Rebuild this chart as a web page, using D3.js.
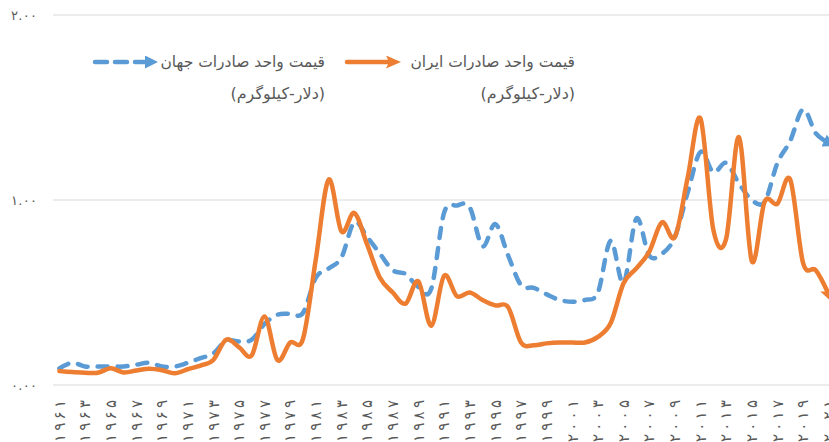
<!DOCTYPE html>
<html>
<head>
<meta charset="utf-8">
<script src="https://cdn.jsdelivr.net/npm/d3@7"></script>
<style>
html,body{margin:0;padding:0;background:#fff;overflow:hidden;}
svg{display:block;font-family:"DejaVu Sans",sans-serif;}
</style>
</head>
<body>
<svg id="chart" width="829" height="442"></svg>
<script>
const years = d3.range(1961, 2022);
const iranValues = [0.075,0.07,0.066,0.066,0.09,0.068,0.078,0.088,0.08,0.063,
  0.085,0.105,0.135,0.245,0.205,0.16,0.37,0.135,0.23,0.25,
  0.68,1.11,0.83,0.93,0.76,0.58,0.50,0.44,0.56,0.32,
  0.59,0.48,0.50,0.46,0.43,0.42,0.23,0.215,0.225,0.23,
  0.23,0.23,0.26,0.335,0.55,0.63,0.72,0.88,0.80,1.12,
  1.44,0.84,0.79,1.34,0.67,0.99,0.98,1.11,0.66,0.62,0.49];
const worldValues = [0.09,0.12,0.10,0.10,0.10,0.10,0.11,0.12,0.10,0.10,
  0.12,0.145,0.17,0.24,0.235,0.245,0.33,0.38,0.385,0.39,
  0.58,0.63,0.69,0.88,0.80,0.71,0.62,0.60,0.53,0.52,
  0.93,0.97,0.96,0.75,0.87,0.70,0.54,0.525,0.49,0.46,
  0.45,0.46,0.50,0.78,0.55,0.90,0.70,0.71,0.80,1.04,
  1.26,1.15,1.20,1.09,1.00,0.99,1.20,1.32,1.49,1.36,1.31];
const yTicks = [0, 1, 2];
const yTickLabels = ["۰.۰۰", "۱.۰۰", "۲.۰۰"];
const xTickYears = d3.range(1961, 2022, 2);
const seriesNames = ["قیمت واحد صادرات جهان", "قیمت واحد صادرات ایران"];
const unitLabel = "(دلار-کیلوگرم)";

const faDigits = "۰۱۲۳۴۵۶۷۸۹";
const toFa = s => String(s).replace(/[0-9]/g, d => faDigits[+d]);

const svg = d3.select("#chart");
const x = d3.scaleLinear().domain([1961, 2021]).range([59.4, 828.7]);
const y = d3.scaleLinear().domain([0, 2]).range([385, 15]);
const blue = "#5B9BD5", orange = "#ED7D31", textCol = "#595959";

const defs = svg.append("defs");
function marker(id, color, path, w, h, refX) {
  defs.append("marker").attr("id", id)
    .attr("markerUnits", "userSpaceOnUse")
    .attr("viewBox", `0 ${-h/2} ${w} ${h}`)
    .attr("markerWidth", w).attr("markerHeight", h)
    .attr("refX", refX).attr("refY", 0).attr("orient", "auto")
    .append("path").attr("d", path).attr("fill", color);
}
marker("arrBlue", blue, "M0,-6.5L13,0L0,6.5Z", 13, 13, 5);
marker("arrOrange", orange, "M0,-6.5L15,0L0,6.5L3,0Z", 15, 13, 6);

// gridlines
svg.append("g").selectAll("line").data(yTicks).join("line")
  .attr("x1", 53).attr("x2", 829)
  .attr("y1", d => y(d)).attr("y2", d => y(d))
  .attr("stroke", "#d9d9d9").attr("stroke-width", 1);

// y labels
svg.append("g").selectAll("text").data(yTicks).join("text")
  .attr("x", 37).attr("y", d => y(d)).attr("dy", "0.35em")
  .attr("text-anchor", "end").attr("fill", textCol).attr("font-size", 13)
  .attr("textLength", 26).attr("lengthAdjust", "spacing")
  .text((d, i) => yTickLabels[i]);

// x labels
svg.append("g").selectAll("text").data(xTickYears).join("text")
  .attr("transform", d => `translate(${x(d)},400) rotate(-90)`)
  .attr("dy", "0.35em").attr("text-anchor", "end")
  .attr("fill", textCol).attr("font-size", 15)
  .attr("textLength", 42).attr("lengthAdjust", "spacing")
  .text(d => toFa(d));

const line = d3.line().x((d, i) => x(years[i])).y(d => y(d)).curve(d3.curveCardinal.tension(0));

svg.append("path").datum(worldValues)
  .attr("d", line).attr("fill", "none").attr("stroke", blue)
  .attr("stroke-width", 4.5).attr("stroke-linecap", "round")
  .attr("stroke-dasharray", "10,10")
  .attr("marker-end", "url(#arrBlue)");

svg.append("path").datum(iranValues)
  .attr("d", line).attr("fill", "none").attr("stroke", orange)
  .attr("stroke-width", 4.5).attr("stroke-linecap", "round")
  .attr("marker-end", "url(#arrOrange)");

// legend
const lg = svg.append("g");
lg.append("line").attr("x1", 95).attr("x2", 150).attr("y1", 62).attr("y2", 62)
  .attr("stroke", blue).attr("stroke-width", 4.5).attr("stroke-linecap", "round")
  .attr("stroke-dasharray", "12,8").attr("marker-end", "url(#arrBlue)");
lg.append("line").attr("x1", 347).attr("x2", 392).attr("y1", 62).attr("y2", 62)
  .attr("stroke", orange).attr("stroke-width", 4.5).attr("stroke-linecap", "round")
  .attr("marker-end", "url(#arrOrange)");

const legendText = [
  {x: 325, name: seriesNames[0]},
  {x: 575, name: seriesNames[1]}
];
legendText.forEach(t => {
  lg.append("text").attr("x", t.x).attr("y", 62).attr("dy", "0.35em")
    .attr("direction", "rtl").attr("text-anchor", "start")
    .attr("fill", textCol).attr("font-size", 15.5).text(t.name);
  lg.append("text").attr("x", t.x).attr("y", 93).attr("dy", "0.35em")
    .attr("direction", "rtl").attr("text-anchor", "start")
    .attr("fill", textCol).attr("font-size", 16).text(unitLabel);
});
</script>
</body>
</html>
